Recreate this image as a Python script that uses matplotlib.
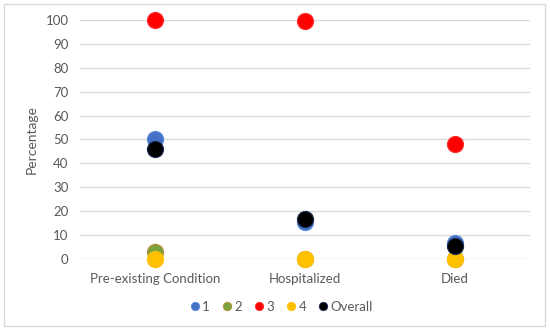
import matplotlib
matplotlib.use("Agg")
import matplotlib.pyplot as plt
from matplotlib.lines import Line2D
from matplotlib.patches import Rectangle

plt.rcParams['font.family'] = ['Lato', 'DejaVu Sans']

categories = ['Pre-existing Condition', 'Hospitalized', 'Died']
series_names = ['1', '2', '3', '4', 'Overall']
values_1 = [50, 15.3, 6.5]
values_2 = [3, 0, 0]
values_3 = [100, 99.5, 48]
values_4 = [0, 0, 0]
values_overall = [46, 16.6, 5.6]

series_values = [values_1, values_2, values_3, values_4, values_overall]
face_colors = ['#4472C4', '#7AA43E', '#FF0000', '#FFC000', '#000000']
edge_colors = ['#5B8AD8', '#B98A36', '#FF3030', '#FFC000', '#1A2A50']

fig = plt.figure(figsize=(5.5, 3.32), dpi=100)
ax = fig.add_axes([0.145, 0.2199, 0.8186, 0.7199])

x = list(range(len(categories)))
for i, (name, vals) in enumerate(zip(series_names, series_values)):
    ax.scatter(x, vals, s=135, color=face_colors[i], edgecolors=edge_colors[i],
               linewidths=0.8, zorder=3 + i, clip_on=False, label=name)

ax.set_xlim(-0.5, 2.5)
ax.set_ylim(0, 100)
ax.set_yticks(range(0, 101, 10))
ax.set_xticks(x)
ax.set_xticklabels(categories)
ax.yaxis.grid(True, color='#D9D9D9', linewidth=1)
ax.set_axisbelow(True)
for sp in ax.spines.values():
    sp.set_visible(False)
ax.tick_params(length=0, labelsize=9.5, colors='#595959', pad=8)
ax.tick_params(axis='x', pad=10)
ax.set_ylabel('Percentage', fontsize=10, color='#595959', labelpad=6)

handles = [Line2D([], [], linestyle='none', marker='o', markersize=6,
                  markerfacecolor=face_colors[i], markeredgecolor=edge_colors[i],
                  markeredgewidth=0.6) for i in range(len(series_names))]
fig.legend(handles, series_names, loc='center', bbox_to_anchor=(0.51, 1 - 307 / 332),
           ncol=5, frameon=False, fontsize=9.5, handletextpad=0.05, columnspacing=0.8,
           handlelength=1.0, labelcolor='#595959')

fig.patches.append(Rectangle((4 / 550, 1 - 326 / 332), 541 / 550, 322 / 332,
                             transform=fig.transFigure, fill=False,
                             edgecolor='#D9D9D9', linewidth=1))

fig.savefig('out.png', dpi=100)
